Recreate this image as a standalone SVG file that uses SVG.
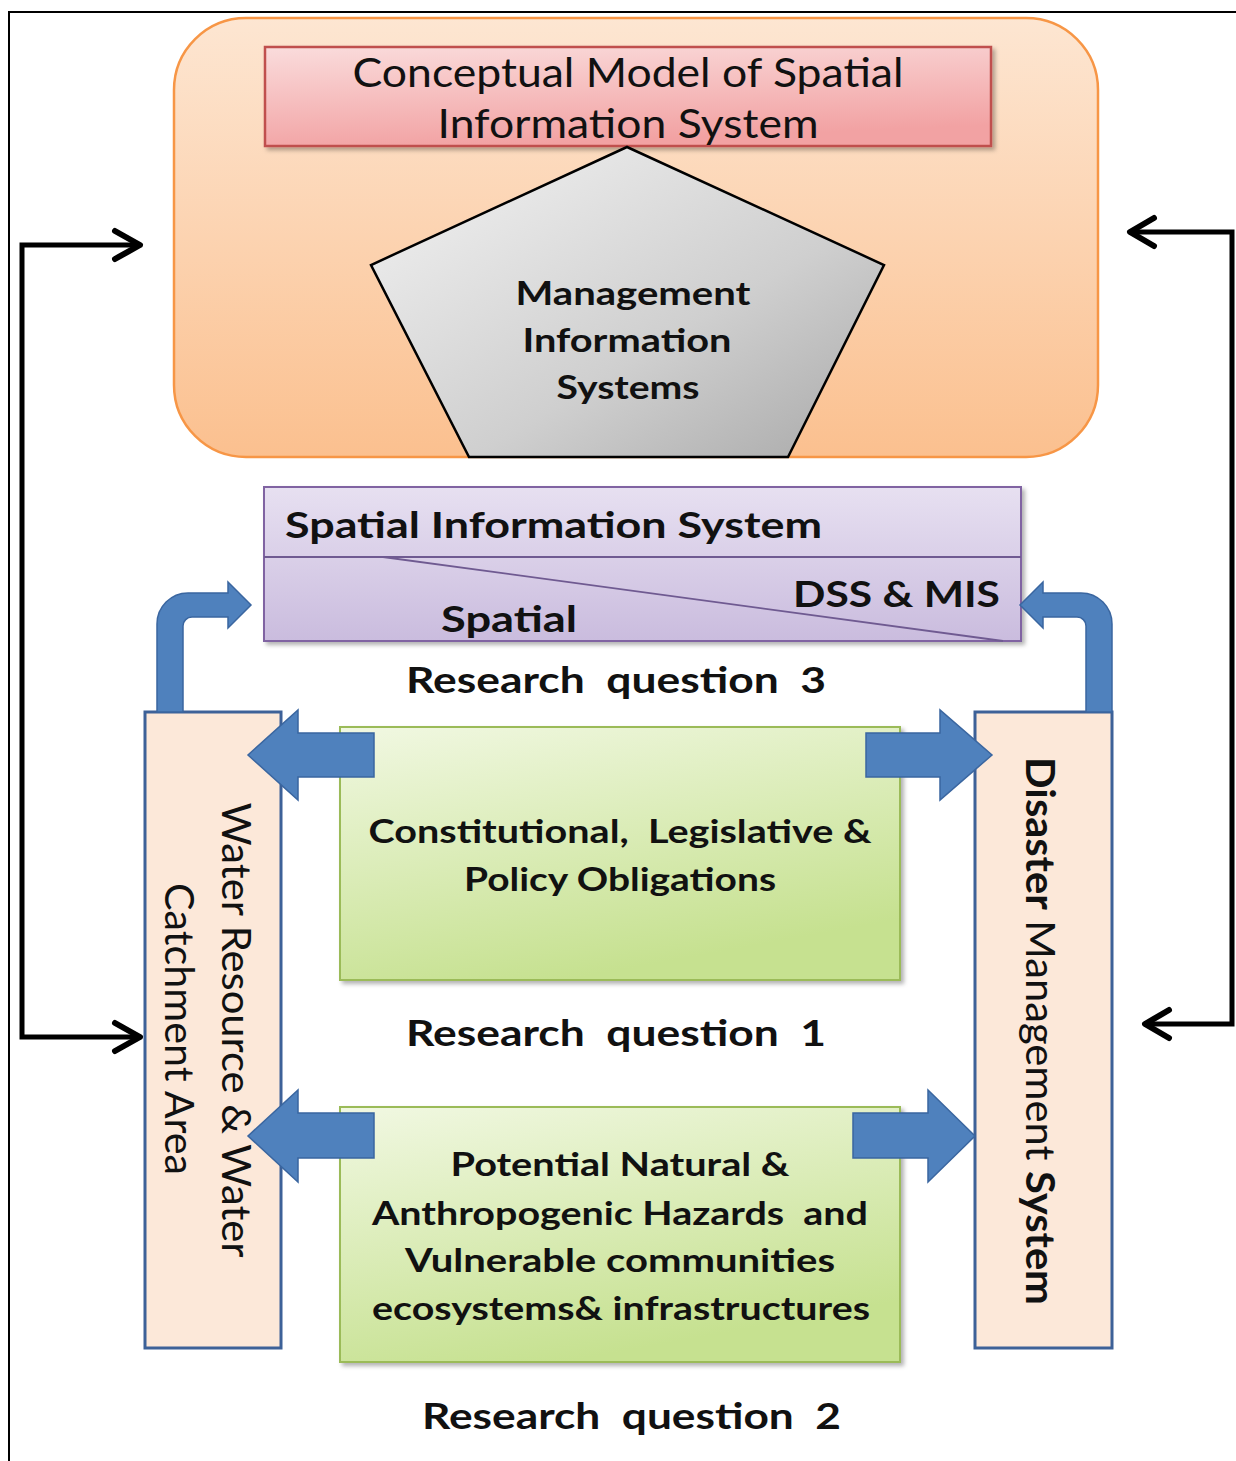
<svg xmlns="http://www.w3.org/2000/svg" width="1236" height="1461" viewBox="0 0 1236 1461">
  <defs>
    <linearGradient id="gOrange" x1="0" y1="0" x2="0" y2="1">
      <stop offset="0" stop-color="#FDE6D2"/>
      <stop offset="1" stop-color="#FBC08F"/>
    </linearGradient>
    <linearGradient id="gRed" x1="0" y1="0" x2="0.3" y2="1">
      <stop offset="0" stop-color="#FADCDC"/>
      <stop offset="1" stop-color="#F2A2A3"/>
    </linearGradient>
    <linearGradient id="gGray" x1="0" y1="0" x2="1" y2="1">
      <stop offset="0" stop-color="#F4F4F4"/>
      <stop offset="0.6" stop-color="#CFCFCF"/>
      <stop offset="1" stop-color="#A8A8A8"/>
    </linearGradient>
    <linearGradient id="gPurple" x1="0" y1="0" x2="0" y2="1">
      <stop offset="0" stop-color="#E7E0F1"/>
      <stop offset="1" stop-color="#CABCDE"/>
    </linearGradient>
    <linearGradient id="gGreen" x1="0" y1="0" x2="0.4" y2="1">
      <stop offset="0" stop-color="#F1F8E2"/>
      <stop offset="1" stop-color="#C6E190"/>
    </linearGradient>
    <filter id="shadow" x="-5%" y="-5%" width="115%" height="115%">
      <feDropShadow dx="3" dy="3" stdDeviation="2" flood-color="#000" flood-opacity="0.3"/>
    </filter>
    <style>
      .sans { font-family: Lato, "Open Sans", "Liberation Sans", sans-serif; fill: #111; }
      .bold { font-weight: bold; }
      .mid { text-anchor: middle; }
      .conn { fill: none; stroke: #000; stroke-width: 5; stroke-linejoin: miter; }
      .head { fill: none; stroke: #000; stroke-width: 6; stroke-linecap: round; stroke-linejoin: round; }
      .blue { fill: #4F81BD; stroke: #3A66A0; stroke-width: 1.5; }
      .side { fill: #FCE8D9; stroke: #3D6198; stroke-width: 3; }
      .green { fill: url(#gGreen); stroke: #9BBB59; stroke-width: 2; }
    </style>
  </defs>

  <!-- page frame -->
  <rect x="9" y="12" width="1240" height="1470" fill="#FFFFFF" stroke="#000" stroke-width="2"/>

  <!-- top container: conceptual model -->
  <g id="conceptual-model">
    <rect x="174" y="18" width="924" height="439" rx="72" ry="72" fill="url(#gOrange)" stroke="#F79646" stroke-width="2.5"/>
    <g id="title-box">
      <rect x="265" y="47" width="726" height="99" fill="url(#gRed)" stroke="#C0504D" stroke-width="2.5" filter="url(#shadow)"/>
      <text class="sans mid" x="628" y="87" font-size="40" textLength="551" lengthAdjust="spacingAndGlyphs">Conceptual Model of Spatial</text>
      <text class="sans mid" x="628" y="138" font-size="40" textLength="381" lengthAdjust="spacingAndGlyphs">Information System</text>
    </g>
    <g id="mis">
      <polygon points="627,147 884,265 788,457 469,457 371,265" fill="url(#gGray)" stroke="#000" stroke-width="2.5" stroke-linejoin="miter"/>
      <text class="sans bold mid" x="633" y="305" font-size="32" textLength="235" lengthAdjust="spacingAndGlyphs">Management</text>
      <text class="sans bold mid" x="627" y="352" font-size="32" textLength="209" lengthAdjust="spacingAndGlyphs">Information</text>
      <text class="sans bold mid" x="628" y="399" font-size="32" textLength="143" lengthAdjust="spacingAndGlyphs">Systems</text>
    </g>
  </g>

  <!-- spatial information system -->
  <g id="sis">
    <rect x="264" y="487" width="757" height="154" fill="url(#gPurple)" stroke="#8064A2" stroke-width="2" filter="url(#shadow)"/>
    <line x1="264" y1="557" x2="1021" y2="557" stroke="#6F5A91" stroke-width="2"/>
    <line x1="383" y1="557" x2="1003" y2="641" stroke="#6F5A91" stroke-width="1.8"/>
    <text class="sans bold" x="285" y="538" font-size="37" textLength="537" lengthAdjust="spacingAndGlyphs">Spatial Information System</text>
    <text class="sans bold" x="793" y="607" font-size="37" textLength="207" lengthAdjust="spacingAndGlyphs">DSS &amp; MIS</text>
    <text class="sans bold" x="441" y="632" font-size="37" textLength="136" lengthAdjust="spacingAndGlyphs">Spatial</text>
  </g>

  <text id="rq3" class="sans bold" x="406" y="693" font-size="37" textLength="420" lengthAdjust="spacingAndGlyphs" xml:space="preserve">Research  question  3</text>

  <!-- obligations -->
  <g id="obligations">
    <rect class="green" x="340" y="727" width="560" height="253" filter="url(#shadow)"/>
    <text class="sans bold mid" x="620" y="843" font-size="33" textLength="503" lengthAdjust="spacingAndGlyphs" xml:space="preserve">Constitutional,  Legislative &amp;</text>
    <text class="sans bold mid" x="620" y="891" font-size="33" textLength="312" lengthAdjust="spacingAndGlyphs">Policy Obligations</text>
  </g>

  <text id="rq1" class="sans bold" x="406" y="1046" font-size="37" textLength="420" lengthAdjust="spacingAndGlyphs" xml:space="preserve">Research  question  1</text>

  <!-- hazards -->
  <g id="hazards">
    <rect class="green" x="340" y="1107" width="560" height="255" filter="url(#shadow)"/>
    <text class="sans bold mid" x="620" y="1176" font-size="33" textLength="339" lengthAdjust="spacingAndGlyphs">Potential Natural &amp;</text>
    <text class="sans bold mid" x="620" y="1225" font-size="33" textLength="496" lengthAdjust="spacingAndGlyphs" xml:space="preserve">Anthropogenic Hazards  and</text>
    <text class="sans bold mid" x="620" y="1272" font-size="33" textLength="430" lengthAdjust="spacingAndGlyphs">Vulnerable communities</text>
    <text class="sans bold mid" x="621" y="1320" font-size="33" textLength="498" lengthAdjust="spacingAndGlyphs">ecosystems&amp; infrastructures</text>
  </g>

  <text id="rq2" class="sans bold" x="422" y="1429" font-size="37" textLength="419" lengthAdjust="spacingAndGlyphs" xml:space="preserve">Research  question  2</text>

  <!-- water resource & catchment -->
  <g id="water">
    <rect class="side" x="145" y="712" width="136" height="636"/>
    <text class="sans mid" transform="translate(222,1030) rotate(90)" font-size="40" textLength="455" lengthAdjust="spacingAndGlyphs">Water Resource &amp; Water</text>
    <text class="sans mid" transform="translate(165,1029) rotate(90)" font-size="40" textLength="292" lengthAdjust="spacingAndGlyphs">Catchment Area</text>
  </g>

  <!-- disaster management -->
  <g id="disaster">
    <rect class="side" x="975" y="712" width="137" height="636"/>
    <text class="sans mid" transform="translate(1026,1031) rotate(90)" font-size="40" textLength="548" lengthAdjust="spacingAndGlyphs"><tspan font-weight="bold">Disaster</tspan> Management <tspan font-weight="bold">System</tspan></text>
  </g>

  <!-- connectors -->
  <g id="connectors">
    <!-- feedback loop, left -->
    <polyline class="conn" points="138,245 22,245 22,1037 138,1037"/>
    <polyline class="head" points="115,231 140,245 115,259"/>
    <polyline class="head" points="115,1023 140,1037 115,1051"/>
    <!-- feedback loop, right -->
    <polyline class="conn" points="1132,232 1232,232 1232,1024 1147,1024"/>
    <polyline class="head" points="1154,218 1130,232 1154,246"/>
    <polyline class="head" points="1169,1010 1145,1024 1169,1038"/>

    <!-- bent arrows up into the spatial information system -->
    <path class="blue" d="M157,712 L157,624 A31,31 0 0 1 188,593 L228,593 L228,582 L251,605 L228,628 L228,617 L192,617 A9,9 0 0 0 183,626 L183,712 Z"/>
    <path class="blue" d="M1112,712 L1112,624 A31,31 0 0 0 1081,593 L1043,593 L1043,582 L1020,605 L1043,628 L1043,617 L1077,617 A9,9 0 0 1 1086,626 L1086,712 Z"/>

    <!-- block arrows from obligations -->
    <polygon class="blue" points="374,733 298,733 298,710 248,755 298,800 298,777 374,777"/>
    <polygon class="blue" points="866,733 940,733 940,710 992,755 940,800 940,777 866,777"/>
    <!-- block arrows from hazards -->
    <polygon class="blue" points="374,1113 298,1113 298,1090 248,1136 298,1182 298,1158 374,1158"/>
    <polygon class="blue" points="853,1113 928,1113 928,1090 975,1136 928,1182 928,1158 853,1158"/>
  </g>
</svg>
